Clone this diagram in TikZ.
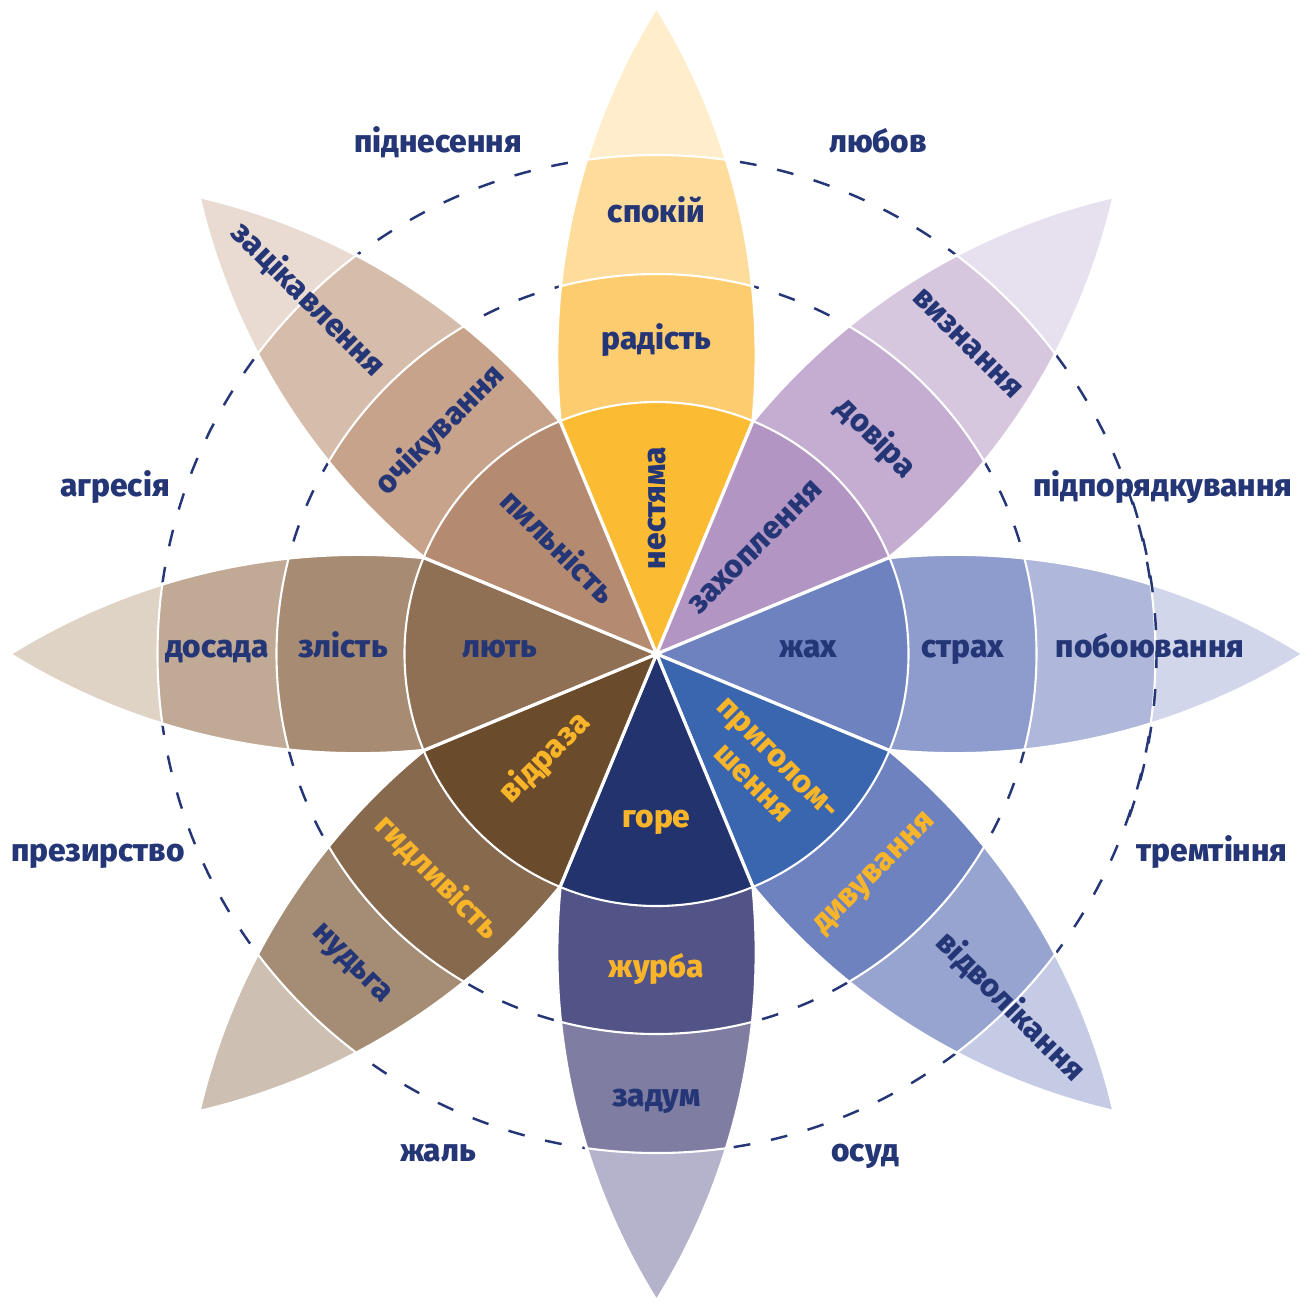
\documentclass[tikz,border=0pt]{standalone}
\usepackage{fontspec}
\setmainfont{Fira Sans}[BoldFont={Fira Sans ExtraBold}]
\definecolor{cnavy}{RGB}{37, 54, 119}
\definecolor{corange}{RGB}{249, 181, 42}
\definecolor{cjoya}{RGB}{251, 187, 51}
\definecolor{cjoyb}{RGB}{253, 204, 110}
\definecolor{cjoyc}{RGB}{254, 220, 156}
\definecolor{cjoyd}{RGB}{255, 237, 203}
\definecolor{ctrusta}{RGB}{178, 149, 194}
\definecolor{ctrustb}{RGB}{196, 173, 209}
\definecolor{ctrustc}{RGB}{214, 199, 223}
\definecolor{ctrustd}{RGB}{231, 224, 238}
\definecolor{cfeara}{RGB}{110, 130, 191}
\definecolor{cfearb}{RGB}{142, 156, 205}
\definecolor{cfearc}{RGB}{175, 183, 219}
\definecolor{cfeard}{RGB}{209, 214, 235}
\definecolor{csurpa}{RGB}{58, 102, 175}
\definecolor{csurpb}{RGB}{110, 130, 191}
\definecolor{csurpc}{RGB}{151, 164, 208}
\definecolor{csurpd}{RGB}{197, 202, 229}
\definecolor{csada}{RGB}{34, 51, 110}
\definecolor{csadb}{RGB}{82, 83, 134}
\definecolor{csadc}{RGB}{127, 125, 162}
\definecolor{csadd}{RGB}{181, 179, 203}
\definecolor{cdisga}{RGB}{106, 75, 44}
\definecolor{cdisgb}{RGB}{135, 105, 78}
\definecolor{cdisgc}{RGB}{164, 140, 117}
\definecolor{cdisgd}{RGB}{205, 191, 177}
\definecolor{cangra}{RGB}{143, 112, 84}
\definecolor{cangrb}{RGB}{168, 139, 115}
\definecolor{cangrc}{RGB}{192, 170, 149}
\definecolor{cangrd}{RGB}{223, 211, 198}
\definecolor{canta}{RGB}{180, 138, 112}
\definecolor{cantb}{RGB}{198, 163, 138}
\definecolor{cantc}{RGB}{214, 188, 170}
\definecolor{cantd}{RGB}{233, 219, 209}
\newcommand{\emofont}{\fontsize{9}{10}\selectfont\bfseries}
\tikzset{
	emolabel/.style={%
			font=\emofont,%
			text=cnavy,%
			text height=1ex,%
			text depth=0pt,%
			inner sep=0pt},%
	emolabelhot/.style={%
			emolabel,%
			text=corange},%
	emotwoline/.style={%
			font=\emofont,%
			text=corange,%
			align=center,%
			inner sep=0pt},%
	ringline/.style={%
			draw=cnavy,%
			line width=0.7pt,%
			dash pattern=on 4.8pt off 6pt},%
	bandline/.style={%
			draw=white,%
			line width=0.6pt},%
	petaledge/.style={%
			draw=white,%
			line width=0.9pt},%
}
% one petal: angle, inner, middle, outer, tip
\newcommand{\emopetal}[5]{%
	\begin{scope}[rotate=#1]
		\begin{scope}
			\clip (0,0) -- (2.328,0.964) arc[start angle=95.72, end angle=58.08, radius=6.592]
			arc[start angle=-58.08, end angle=-95.72, radius=6.592] -- cycle;
			\fill[#5] (0,0) circle (6.6);
			\fill[#4] (0,0) circle (4.99);
			\fill[#3] (0,0) circle (3.80);
			\fill[#2] (0,0) circle (2.52);
			\draw[bandline] (0,0) circle (2.52) (0,0) circle (3.80) (0,0) circle (4.99);
		\end{scope}
		\draw[petaledge] (0,0) -- (2.328,0.964) arc[start angle=95.72, end angle=58.08, radius=6.592]
		arc[start angle=-58.08, end angle=-95.72, radius=6.592] -- cycle;
	\end{scope}}

\begin{document}
\begin{tikzpicture}
	\useasboundingbox (-6.565,-6.47) rectangle (6.495,6.54);

	\draw[ringline] (0,0) circle (3.80);
	\draw[ringline] (0,0) circle (4.99);

	\emopetal{90}{cjoya}{cjoyb}{cjoyc}{cjoyd}
	\emopetal{45}{ctrusta}{ctrustb}{ctrustc}{ctrustd}
	\emopetal{0}{cfeara}{cfearb}{cfearc}{cfeard}
	\emopetal{-45}{csurpa}{csurpb}{csurpc}{csurpd}
	\emopetal{-90}{csada}{csadb}{csadc}{csadd}
	\emopetal{-135}{cdisga}{cdisgb}{cdisgc}{cdisgd}
	\emopetal{180}{cangra}{cangrb}{cangrc}{cangrd}
	\emopetal{135}{canta}{cantb}{cantc}{cantd}

	\draw[ringline] (-19:5.0) arc[start angle=-19, end angle=19, radius=5.0];

	\node[emolabel, rotate=90] (nestyama) at (0,1.46) {нестяма};
	\node[emolabel] (radist) at (0,3.14) {радість};
	\node[emolabel] (spokij) at (0,4.41) {спокій};

	\node[emolabel, rotate=45] (zakhoplennya) at (0.985,1.07) {захоплення};
	\node[emolabel, rotate=-45] (dovira) at (2.195,2.16) {довіра};
	\node[emolabel, rotate=-45] (vyznannya) at (3.115,3.11) {визнання};

	\node[emolabel] (zhakh) at (1.515,0.06) {жах};
	\node[emolabel] (strakh) at (3.065,0.06) {страх};
	\node[emolabel] (poboyuvannya) at (4.935,0.06) {побоювання};

	\node[emotwoline, rotate=-45] (pryholomshennya) at (1.085,-1.17) {приголом-\\шення};
	\node[emolabelhot, rotate=45] (dyvuvannya) at (2.165,-2.18) {дивування};
	\node[emolabel, rotate=-45] (vidvolikannya) at (3.535,-3.53) {відволікання};

	\node[emolabelhot] (hore) at (0,-1.64) {горе};
	\node[emolabelhot] (zhurba) at (0,-3.14) {журба};
	\node[emolabel] (zadum) at (0,-4.43) {задум};

	\node[emolabelhot, rotate=45] (vidraza) at (-1.115,-1.04) {відраза};
	\node[emolabelhot, rotate=-45] (hydlyvist) at (-2.195,-2.24) {гидливість};
	\node[emolabel, rotate=-45] (nudga) at (-3.035,-3.08) {нудьга};

	\node[emolabel] (lyut) at (-1.565,0.06) {лють};
	\node[emolabel] (zlist) at (-3.135,0.06) {злість};
	\node[emolabel] (dosada) at (-4.395,0.06) {досада};

	\node[emolabel, rotate=-45] (pylnist) at (-0.995,1.06) {пильність};
	\node[emolabel, rotate=45] (ochikuvannya) at (-2.165,2.24) {очікування};
	\node[emolabel, rotate=-45] (zatsikavlennya) at (-3.485,3.54) {зацікавлення};

	\node[emolabel] (pidnesennya) at (-2.185,5.11) {піднесення};
	\node[emolabel] (lyubov) at (2.215,5.11) {любов};
	\node[emolabel] (ahresiya) at (-5.415,1.67) {агресія};
	\node[emolabel] (pidporyadkuvannya) at (5.065,1.67) {підпорядкування};
	\node[emolabel] (prezyrstvo) at (-5.585,-1.98) {презирство};
	\node[emolabel] (tremtinnya) at (5.555,-1.98) {тремтіння};
	\node[emolabel] (zhal) at (-2.185,-4.98) {жаль};
	\node[emolabel] (osud) at (2.085,-4.98) {осуд};
\end{tikzpicture}
\end{document}
